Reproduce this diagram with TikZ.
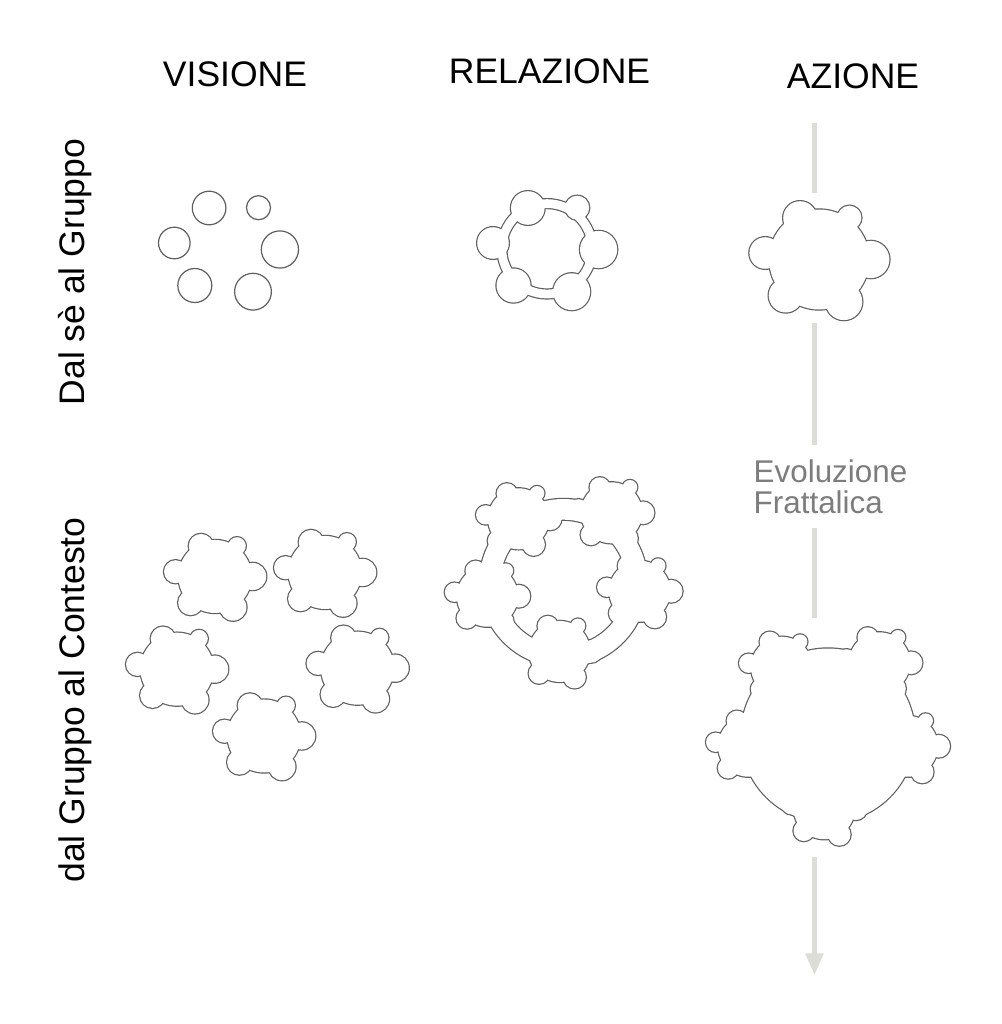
\documentclass[tikz,border=0pt]{standalone}
\usepackage{fontspec}
\setmainfont{Liberation Sans}
\usetikzlibrary{arrows.meta}
\definecolor{shapegray}{RGB}{95,95,95}
\definecolor{arrowgray}{RGB}{221,221,216}
\definecolor{textgray}{RGB}{125,125,125}
% six circles (local units = px at scale 1)
\newcommand{\sixPath}[4]{%
  \begin{scope}[shift={(#1,#2)},scale=#3]
    \path[#4] (-19.2,-39.5) circle (16.8) (30.2,-39.8) circle (12)
      (-54,-4.5) circle (15.8) (51.6,2) circle (18.6)
      (-33.5,38) circle (17) (24.7,44.2) circle (18.4);
  \end{scope}}
% six circles plus central disk
\newcommand{\cluPath}[4]{%
  \begin{scope}[shift={(#1,#2)},scale=#3]
    \path[#4] (-19.2,-39.5) circle (16.8) (30.2,-39.8) circle (12)
      (-54,-4.5) circle (15.8) (51.6,2) circle (18.6)
      (-33.5,38) circle (17) (24.7,44.2) circle (18.4)
      (0,2) circle (50);
  \end{scope}}
\begin{document}
\begin{tikzpicture}[x=1pt,y=-1pt,
  stk/.style={draw=shapegray,line width=2.4pt},
  wht/.style={fill=white},
  thin/.style={draw=shapegray,line width=1.2pt},
  head/.style={font=\fontsize{35.5}{40}\selectfont,anchor=base,inner sep=0pt},
  evo/.style={font=\fontsize{31.4}{36}\selectfont,text=textgray,anchor=base west,inner sep=0pt},
  arr/.style={draw=arrowgray,line width=4.3pt}]
\useasboundingbox[fill=white] (0,0) rectangle (1001,1024);

% ---------- headers ----------
\node[head] (hv) at (235,87) {VISIONE};
\node[head] (hr) at (549.5,84) {RELAZIONE};
\node[head] (ha) at (853,89) {AZIONE};
\node[head,rotate=90] (r1) at (84,272) {Dal sè al Gruppo};
\node[head,rotate=90] (r2) at (84,700) {dal Gruppo al Contesto};

% ---------- arrow ----------
\coordinate (p1) at (814.5,122.7);
\coordinate (p2) at (814.5,192.7);
\coordinate (p3) at (814.5,323.3);
\coordinate (p4) at (814.5,445);
\coordinate (p5) at (814.5,528.3);
\coordinate (p6) at (814.5,618.3);
\coordinate (p7) at (814.5,856.7);
\coordinate (p8) at (814.5,975);
\draw[arr] (p1) -- (p2);
\draw[arr] (p3) -- (p4);
\draw[arr] (p5) -- (p6);
\draw[arr,-{Triangle[width=17.7pt,length=21.7pt]}] (p7) -- (p8);
\node[evo] (e1) at (753.5,482.7) {Evoluzione};
\node[evo] (e2) at (753.5,513.3) {Frattalica};

% ---------- row 1 ----------
% VISIONE: separate circles
\sixPath{228.3}{247.5}{1}{thin}
% RELAZIONE: circles + ring
\sixPath{547}{247.5}{1}{stk}
\path[stk] (547,248.8) circle (49.6) (547,248.8) circle (40.8);
\path[wht,even odd rule] (547,248.8) circle (49.6) (547,248.8) circle (40.8);
\sixPath{547}{247.5}{1}{wht}
% AZIONE: circles + disk
\cluPath{819.2}{257.5}{1}{stk}
\cluPath{819.2}{257.5}{1}{wht}

% ---------- row 2 ----------
% VISIONE: five separate clusters
\cluPath{215}{575}{0.73}{stk}\cluPath{215}{575}{0.73}{wht}
\cluPath{325}{571}{0.73}{stk}\cluPath{325}{571}{0.73}{wht}
\cluPath{177}{667.7}{0.73}{stk}\cluPath{177}{667.7}{0.73}{wht}
\cluPath{357.5}{666.7}{0.73}{stk}\cluPath{357.5}{666.7}{0.73}{wht}
\cluPath{264}{734.5}{0.73}{stk}\cluPath{264}{734.5}{0.73}{wht}

% RELAZIONE: five clusters + ring
\cluPath{518.6}{517.6}{0.61}{stk}
\cluPath{611.5}{511.6}{0.61}{stk}
\cluPath{487.4}{595}{0.61}{stk}
\cluPath{639.7}{590}{0.61}{stk}
\cluPath{559.5}{650.2}{0.61}{stk}
\path[stk] (563.4,583) circle (84) (563.4,583) circle (63.3);
\path[wht,even odd rule] (563.4,583) circle (84) (563.4,583) circle (63.3);
\cluPath{518.6}{517.6}{0.61}{wht}
\cluPath{611.5}{511.6}{0.61}{wht}
\cluPath{487.4}{595}{0.61}{wht}
\cluPath{639.7}{590}{0.61}{wht}
\cluPath{559.5}{650.2}{0.61}{wht}

% AZIONE: five clusters + big disk
\cluPath{781.6}{666}{0.61}{stk}
\cluPath{879.5}{661.6}{0.61}{stk}
\cluPath{748.6}{745}{0.61}{stk}
\cluPath{907.2}{745}{0.61}{stk}
\cluPath{824.3}{807.5}{0.61}{stk}
\path[stk] (828,735.5) circle (87);
\path[wht] (828,735.5) circle (87);
\cluPath{781.6}{666}{0.61}{wht}
\cluPath{879.5}{661.6}{0.61}{wht}
\cluPath{748.6}{745}{0.61}{wht}
\cluPath{907.2}{745}{0.61}{wht}
\cluPath{824.3}{807.5}{0.61}{wht}
\end{tikzpicture}
\end{document}
